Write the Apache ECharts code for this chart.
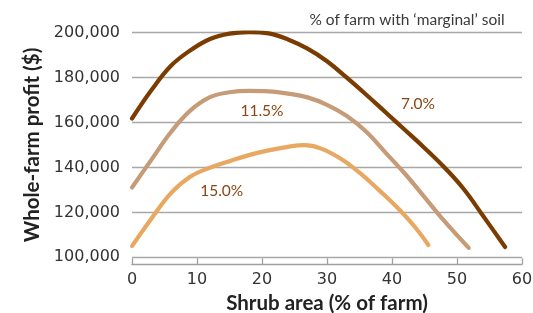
<!DOCTYPE html>
<html>
<head>
<meta charset="utf-8">
<script src="https://cdn.jsdelivr.net/npm/echarts@6/dist/echarts.min.js"></script>
<style>html,body{margin:0;padding:0;background:#fff}#c{width:533px;height:313px}</style>
</head>
<body>
<div id="c"></div>
<script>
// Data
const seriesNames = ['7.0%', '11.5%', '15.0%'];
const x70 = [0, 3, 6, 9, 12, 15, 18, 21, 24, 27, 30, 33, 36, 39, 42, 45, 48, 51, 54, 57.4];
const y70 = [161800, 174500, 185300, 192200, 197200, 199600, 200300, 199700, 197000, 192900, 187300, 180100, 172500, 164600, 156700, 148700, 140200, 130500, 118500, 104600];
const x115 = [0, 3, 6, 9, 12, 15, 18, 21, 24, 27, 30, 33, 36, 39, 42, 45, 48, 51.8];
const y115 = [131100, 143500, 155800, 165400, 171300, 173500, 174100, 173900, 172900, 171200, 167900, 163000, 156000, 146600, 137200, 126800, 116300, 104200];
const x150 = [0, 3, 6, 9, 12, 15, 18, 21, 24, 26.5, 29, 32, 35, 38, 41, 43.5, 45.6];
const y150 = [105000, 117300, 128600, 136000, 139900, 142800, 145500, 147600, 149200, 149900, 148500, 144100, 137700, 129900, 121600, 113600, 105500];
// label anchor positions (data units)
const labelPos = [[44, 168400], [20, 165300], [13.8, 129300]];
const legendTitle = '% of farm with \u2018marginal\u2019 soil';
const xName = 'Shrub area (% of farm)';
const yName = 'Whole-farm profit ($)';

const colors = ['#7a3c00', '#c69b78', '#e8a862'];
const labelColor = '#8a4512';
const pairs = (xs, ys) => xs.map((x, i) => [x, ys[i]]);
const allData = [pairs(x70, y70), pairs(x115, y115), pairs(x150, y150)];

const chart = echarts.init(document.getElementById('c'), null, {renderer: 'canvas'});
chart.setOption({
  animation: false,
  backgroundColor: '#fff',
  title: {
    text: legendTitle,
    left: 402, top: 7, textAlign: 'center',
    textStyle: {fontFamily: 'Lato', fontSize: 15.5, fontWeight: 'normal', color: '#3a3a3a'}
  },
  grid: {left: 132, right: 11, top: 32.7, bottom: 55.7, containLabel: false, outerBoundsMode: 'none'},
  xAxis: {
    type: 'value', min: 0, max: 60, interval: 10,
    offset: 7,
    name: xName, nameLocation: 'middle', nameGap: 27,
    nameTextStyle: {fontFamily: 'Lato', fontWeight: 'bold', fontSize: 20.5, color: '#222'},
    axisLine: {show: true, lineStyle: {color: '#a0a0a0', width: 1.3}},
    axisTick: {show: true, inside: true, length: 6, lineStyle: {color: '#a0a0a0', width: 1.3}},
    axisLabel: {margin: 8, fontFamily: 'DejaVu Sans', fontSize: 16, color: '#333'},
    splitLine: {show: false}
  },
  yAxis: {
    type: 'value', min: 100000, max: 200000, interval: 20000,
    name: yName, nameLocation: 'middle', nameGap: 85, nameRotate: 90,
    nameTextStyle: {fontFamily: 'Lato', fontWeight: 'bold', fontSize: 20.5, color: '#222'},
    axisLine: {show: false}, axisTick: {show: false},
    axisLabel: {margin: 12, fontFamily: 'DejaVu Sans', fontSize: 16, color: '#333',
      padding: [0, 0, 8, 0],
      formatter: v => v.toLocaleString('en-US')},
    splitLine: {show: true, lineStyle: {color: '#a8a8a8', width: 1.3}}
  },
  series: allData.map((d, i) => ({
    name: seriesNames[i],
    type: 'line', smooth: 0.4, showSymbol: false, symbol: 'none',
    data: d,
    lineStyle: {color: colors[i], width: 4.2, cap: 'round', join: 'round'},
    itemStyle: {color: colors[i]},
    z: 3 - i,
    markPoint: {
      symbol: 'circle', symbolSize: 0,
      data: [{coord: labelPos[i], value: seriesNames[i]}],
      label: {show: true, position: 'inside', formatter: seriesNames[i],
        fontFamily: 'Lato', fontSize: 15.5, color: labelColor}
    }
  }))
});
</script>
</body>
</html>
